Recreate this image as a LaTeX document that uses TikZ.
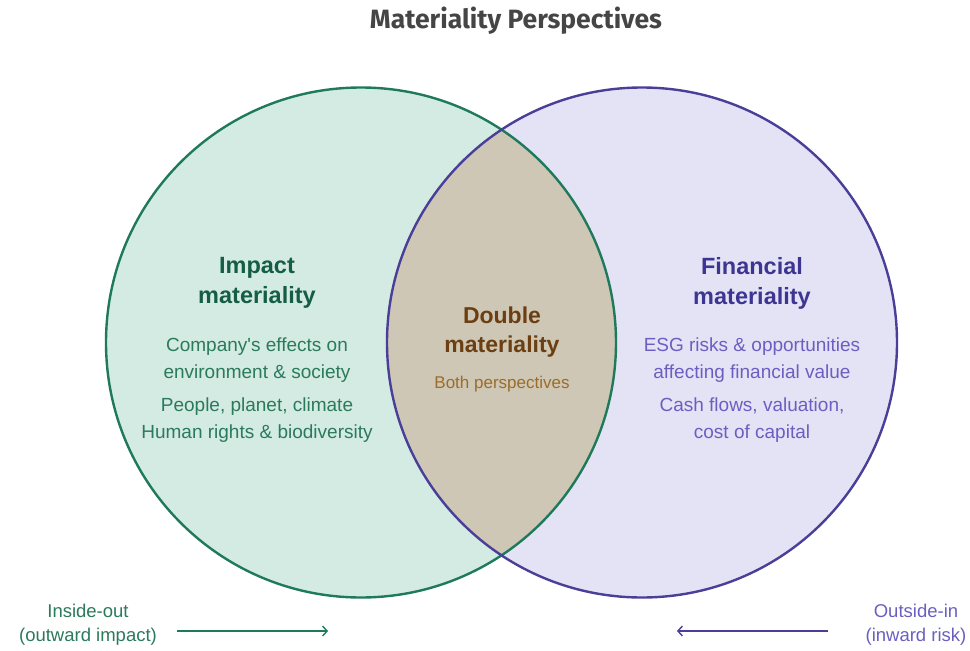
\documentclass[tikz,border=0pt]{standalone}
\usepackage{fontspec}
\setmainfont{Liberation Sans}
\newfontfamily\headfont{Fira Sans}
\usetikzlibrary{positioning,arrows.meta}

\definecolor{impfill}{HTML}{D4EBE3}
\definecolor{impline}{HTML}{1E7A5A}
\definecolor{imphead}{HTML}{155E45}
\definecolor{imptext}{HTML}{2A7A5C}
\definecolor{finfill}{HTML}{E4E3F5}
\definecolor{finline}{HTML}{4A3F98}
\definecolor{finhead}{HTML}{3D3592}
\definecolor{fintext}{HTML}{6A5FC1}
\definecolor{dblfill}{HTML}{CEC7B5}
\definecolor{dblhead}{HTML}{6B3F12}
\definecolor{dbltext}{HTML}{9C6C2A}

\tikzset{
  head/.style={align=center, font=\fontsize{23.5}{30}\selectfont\bfseries},
  body/.style={align=center, font=\fontsize{19}{27}\selectfont},
  small/.style={align=center, font=\fontsize{17}{24}\selectfont},
  side/.style={align=center, font=\fontsize{18.5}{24}\selectfont},
  flow/.style={line width=1.4pt, -{Straight Barb[length=4.5pt,width=10pt]}},
}

\begin{document}
\begin{tikzpicture}[x=1pt,y=-1pt]
  \useasboundingbox (0,0) rectangle (970,651);

  \node[font=\headfont\fontsize{26.5}{30}\selectfont\bfseries, text=black!73] (title) at (516,21) {Materiality Perspectives};

  % the two circles and their overlap
  \fill[impfill] (361,342.5) circle[radius=255pt];
  \fill[finfill] (642,342.5) circle[radius=255pt];
  \begin{scope}
    \clip (361,342.5) circle[radius=255pt];
    \fill[dblfill] (642,342.5) circle[radius=255pt];
  \end{scope}
  \draw[impline,line width=2.4pt] (361,342.5) circle[radius=255pt];
  \draw[finline,line width=2.4pt] (642,342.5) circle[radius=255pt];

  % impact side
  \node[head,text=imphead] (imp) at (257,283) {Impact\\materiality};
  \node[body,text=imptext] (imp1) at (257,360) {Company\textquotesingle s effects on\\environment \& society};
  \node[body,text=imptext] (imp2) at (257,420) {People, planet, climate\\Human rights \& biodiversity};

  % overlap
  \node[head,text=dblhead,font=\fontsize{23}{29}\selectfont\bfseries] (dbl) at (502,332) {Double\\materiality};
  \node[small,text=dbltext] (dbl1) at (502,384) {Both perspectives};

  % financial side
  \node[head,text=finhead] (fin) at (752,283) {Financial\\materiality};
  \node[body,text=fintext] (fin1) at (752,360) {ESG risks \& opportunities\\affecting financial value};
  \node[body,text=fintext] (fin2) at (752,420) {Cash flows, valuation,\\cost of capital};

  % direction notes
  \node[side,text=imptext] (out) at (88,625) {Inside-out\\(outward impact)};
  \node[side,text=fintext] (in) at (916,625) {Outside-in\\(inward risk)};
  \coordinate (outA) at (177,631);
  \coordinate (outB) at (328,631);
  \coordinate (inA) at (828,631);
  \coordinate (inB) at (677,631);
  \draw[flow,impline] (outA) -- (outB);
  \draw[flow,finline] (inA) -- (inB);
\end{tikzpicture}
\end{document}
